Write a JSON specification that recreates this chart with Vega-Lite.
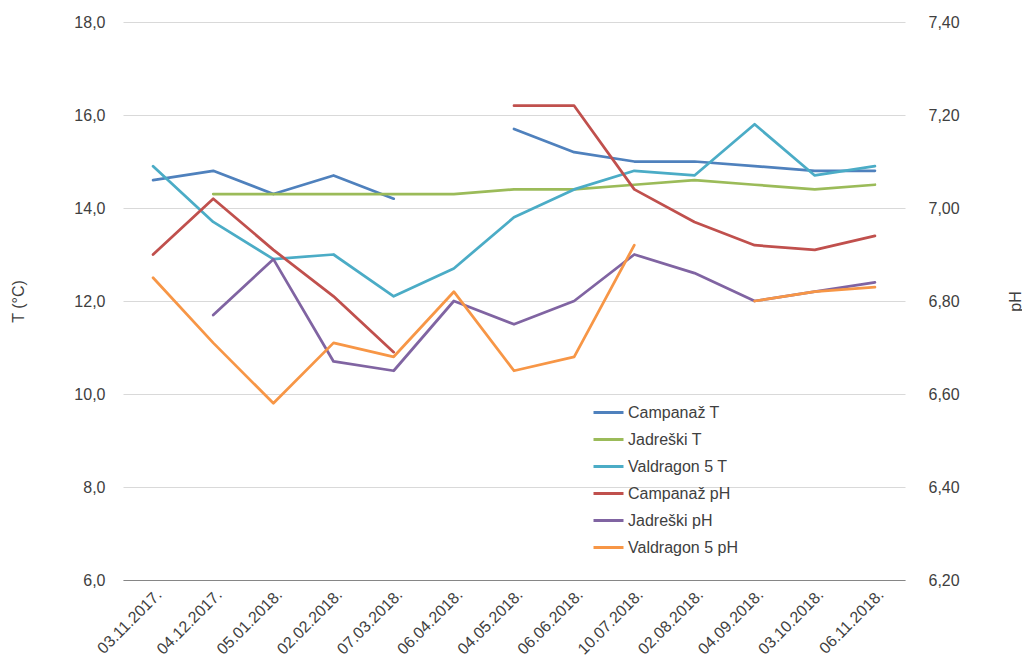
{
  "$schema": "https://vega.github.io/schema/vega-lite/v6.json",
  "width": 782,
  "height": 558,
  "autosize": {"type": "none"},
  "padding": {"left": 123, "top": 22, "right": 117, "bottom": 84},
  "background": "white",
  "config": {
    "view": {"stroke": null},
    "font": "Liberation Sans",
    "axis": {
      "labelFont": "Liberation Sans",
      "labelFontSize": 16,
      "labelColor": "#404040",
      "titleFont": "Liberation Sans",
      "titleFontSize": 16,
      "titleFontWeight": "normal",
      "titleColor": "#404040"
    },
    "legend": {
      "labelFont": "Liberation Sans",
      "labelFontSize": 16,
      "labelColor": "#404040"
    }
  },
  "datasets": {
    "temperature": [
      {"date": "03.11.2017.", "series": "Campanaž T", "value": 14.6},
      {"date": "04.12.2017.", "series": "Campanaž T", "value": 14.8},
      {"date": "05.01.2018.", "series": "Campanaž T", "value": 14.3},
      {"date": "02.02.2018.", "series": "Campanaž T", "value": 14.7},
      {"date": "07.03.2018.", "series": "Campanaž T", "value": 14.2},
      {"date": "06.04.2018.", "series": "Campanaž T", "value": null},
      {"date": "04.05.2018.", "series": "Campanaž T", "value": 15.7},
      {"date": "06.06.2018.", "series": "Campanaž T", "value": 15.2},
      {"date": "10.07.2018.", "series": "Campanaž T", "value": 15.0},
      {"date": "02.08.2018.", "series": "Campanaž T", "value": 15.0},
      {"date": "04.09.2018.", "series": "Campanaž T", "value": 14.9},
      {"date": "03.10.2018.", "series": "Campanaž T", "value": 14.8},
      {"date": "06.11.2018.", "series": "Campanaž T", "value": 14.8},
      {"date": "03.11.2017.", "series": "Jadreški T", "value": null},
      {"date": "04.12.2017.", "series": "Jadreški T", "value": 14.3},
      {"date": "05.01.2018.", "series": "Jadreški T", "value": 14.3},
      {"date": "02.02.2018.", "series": "Jadreški T", "value": 14.3},
      {"date": "07.03.2018.", "series": "Jadreški T", "value": 14.3},
      {"date": "06.04.2018.", "series": "Jadreški T", "value": 14.3},
      {"date": "04.05.2018.", "series": "Jadreški T", "value": 14.4},
      {"date": "06.06.2018.", "series": "Jadreški T", "value": 14.4},
      {"date": "10.07.2018.", "series": "Jadreški T", "value": 14.5},
      {"date": "02.08.2018.", "series": "Jadreški T", "value": 14.6},
      {"date": "04.09.2018.", "series": "Jadreški T", "value": 14.5},
      {"date": "03.10.2018.", "series": "Jadreški T", "value": 14.4},
      {"date": "06.11.2018.", "series": "Jadreški T", "value": 14.5},
      {"date": "03.11.2017.", "series": "Valdragon 5 T", "value": 14.9},
      {"date": "04.12.2017.", "series": "Valdragon 5 T", "value": 13.7},
      {"date": "05.01.2018.", "series": "Valdragon 5 T", "value": 12.9},
      {"date": "02.02.2018.", "series": "Valdragon 5 T", "value": 13.0},
      {"date": "07.03.2018.", "series": "Valdragon 5 T", "value": 12.1},
      {"date": "06.04.2018.", "series": "Valdragon 5 T", "value": 12.7},
      {"date": "04.05.2018.", "series": "Valdragon 5 T", "value": 13.8},
      {"date": "06.06.2018.", "series": "Valdragon 5 T", "value": 14.4},
      {"date": "10.07.2018.", "series": "Valdragon 5 T", "value": 14.8},
      {"date": "02.08.2018.", "series": "Valdragon 5 T", "value": 14.7},
      {"date": "04.09.2018.", "series": "Valdragon 5 T", "value": 15.8},
      {"date": "03.10.2018.", "series": "Valdragon 5 T", "value": 14.7},
      {"date": "06.11.2018.", "series": "Valdragon 5 T", "value": 14.9}
    ],
    "ph": [
      {"date": "03.11.2017.", "series": "Campanaž pH", "value": 6.90},
      {"date": "04.12.2017.", "series": "Campanaž pH", "value": 7.02},
      {"date": "05.01.2018.", "series": "Campanaž pH", "value": 6.91},
      {"date": "02.02.2018.", "series": "Campanaž pH", "value": 6.81},
      {"date": "07.03.2018.", "series": "Campanaž pH", "value": 6.69},
      {"date": "06.04.2018.", "series": "Campanaž pH", "value": null},
      {"date": "04.05.2018.", "series": "Campanaž pH", "value": 7.22},
      {"date": "06.06.2018.", "series": "Campanaž pH", "value": 7.22},
      {"date": "10.07.2018.", "series": "Campanaž pH", "value": 7.04},
      {"date": "02.08.2018.", "series": "Campanaž pH", "value": 6.97},
      {"date": "04.09.2018.", "series": "Campanaž pH", "value": 6.92},
      {"date": "03.10.2018.", "series": "Campanaž pH", "value": 6.91},
      {"date": "06.11.2018.", "series": "Campanaž pH", "value": 6.94},
      {"date": "03.11.2017.", "series": "Jadreški pH", "value": null},
      {"date": "04.12.2017.", "series": "Jadreški pH", "value": 6.77},
      {"date": "05.01.2018.", "series": "Jadreški pH", "value": 6.89},
      {"date": "02.02.2018.", "series": "Jadreški pH", "value": 6.67},
      {"date": "07.03.2018.", "series": "Jadreški pH", "value": 6.65},
      {"date": "06.04.2018.", "series": "Jadreški pH", "value": 6.80},
      {"date": "04.05.2018.", "series": "Jadreški pH", "value": 6.75},
      {"date": "06.06.2018.", "series": "Jadreški pH", "value": 6.80},
      {"date": "10.07.2018.", "series": "Jadreški pH", "value": 6.90},
      {"date": "02.08.2018.", "series": "Jadreški pH", "value": 6.86},
      {"date": "04.09.2018.", "series": "Jadreški pH", "value": 6.80},
      {"date": "03.10.2018.", "series": "Jadreški pH", "value": 6.82},
      {"date": "06.11.2018.", "series": "Jadreški pH", "value": 6.84},
      {"date": "03.11.2017.", "series": "Valdragon 5 pH", "value": 6.85},
      {"date": "04.12.2017.", "series": "Valdragon 5 pH", "value": 6.71},
      {"date": "05.01.2018.", "series": "Valdragon 5 pH", "value": 6.58},
      {"date": "02.02.2018.", "series": "Valdragon 5 pH", "value": 6.71},
      {"date": "07.03.2018.", "series": "Valdragon 5 pH", "value": 6.68},
      {"date": "06.04.2018.", "series": "Valdragon 5 pH", "value": 6.82},
      {"date": "04.05.2018.", "series": "Valdragon 5 pH", "value": 6.65},
      {"date": "06.06.2018.", "series": "Valdragon 5 pH", "value": 6.68},
      {"date": "10.07.2018.", "series": "Valdragon 5 pH", "value": 6.92},
      {"date": "02.08.2018.", "series": "Valdragon 5 pH", "value": null},
      {"date": "04.09.2018.", "series": "Valdragon 5 pH", "value": 6.80},
      {"date": "03.10.2018.", "series": "Valdragon 5 pH", "value": 6.82},
      {"date": "06.11.2018.", "series": "Valdragon 5 pH", "value": 6.83}
    ]
  },
  "layer": [
    {
      "data": {"name": "temperature"},
      "mark": {"type": "line", "strokeWidth": 2.75, "strokeJoin": "round", "strokeCap": "round", "invalid": "break-paths-show-domains"},
      "encoding": {
        "x": {
          "field": "date", "type": "ordinal",
          "scale": {"domain": ["03.11.2017.","04.12.2017.","05.01.2018.","02.02.2018.","07.03.2018.","06.04.2018.","04.05.2018.","06.06.2018.","10.07.2018.","02.08.2018.","04.09.2018.","03.10.2018.","06.11.2018."]},
          "axis": {"title": null, "labelAngle": -45, "ticks": false, "grid": false, "domainColor": "#868686", "labelPadding": 6}
        },
        "y": {
          "field": "value", "type": "quantitative",
          "scale": {"domain": [6, 18], "nice": false, "zero": false},
          "axis": {
            "title": "T (°C)", "values": [6, 8, 10, 12, 14, 16, 18],
            "labelExpr": "replace(format(datum.value, '.1f'), '.', ',')",
            "domain": false, "ticks": false, "gridColor": "#D9D9D9", "labelPadding": 18,
            "titleX": -105, "titleY": 279, "titleAngle": -90, "titleAlign": "center", "titleBaseline": "middle"
          }
        },
        "color": {
          "field": "series", "type": "nominal",
          "scale": {
            "domain": ["Campanaž T", "Jadreški T", "Valdragon 5 T", "Campanaž pH", "Jadreški pH", "Valdragon 5 pH"],
            "range": ["#4F81BD", "#9BBB59", "#4BACC6", "#C0504D", "#8064A2", "#F79646"]
          },
          "legend": {
            "title": null, "orient": "none", "legendX": 469, "legendY": 374,
            "symbolType": "stroke", "symbolSize": 900, "symbolStrokeWidth": 3,
            "labelOffset": 3, "rowPadding": 2, "padding": 0
          }
        }
      }
    },
    {
      "data": {"name": "ph"},
      "mark": {"type": "line", "strokeWidth": 2.75, "strokeJoin": "round", "strokeCap": "round", "invalid": "break-paths-show-domains"},
      "encoding": {
        "x": {
          "field": "date", "type": "ordinal",
          "scale": {"domain": ["03.11.2017.","04.12.2017.","05.01.2018.","02.02.2018.","07.03.2018.","06.04.2018.","04.05.2018.","06.06.2018.","10.07.2018.","02.08.2018.","04.09.2018.","03.10.2018.","06.11.2018."]},
          "axis": {"title": null, "labelAngle": -45, "ticks": false, "grid": false, "domainColor": "#868686", "labelPadding": 6}
        },
        "y": {
          "field": "value", "type": "quantitative",
          "scale": {"domain": [6.2, 7.4], "nice": false, "zero": false},
          "axis": {
            "orient": "right", "title": "pH", "values": [6.2, 6.4, 6.6, 6.8, 7.0, 7.2, 7.4],
            "labelExpr": "replace(format(datum.value, '.2f'), '.', ',')",
            "domain": false, "ticks": false, "grid": false, "labelPadding": 23,
            "titleX": 110, "titleY": 279, "titleAngle": -90, "titleAlign": "center", "titleBaseline": "middle"
          }
        },
        "color": {
          "field": "series", "type": "nominal",
          "scale": {
            "domain": ["Campanaž T", "Jadreški T", "Valdragon 5 T", "Campanaž pH", "Jadreški pH", "Valdragon 5 pH"],
            "range": ["#4F81BD", "#9BBB59", "#4BACC6", "#C0504D", "#8064A2", "#F79646"]
          },
          "legend": {
            "title": null, "orient": "none", "legendX": 469, "legendY": 374,
            "symbolType": "stroke", "symbolSize": 900, "symbolStrokeWidth": 3,
            "labelOffset": 3, "rowPadding": 2, "padding": 0
          }
        }
      }
    }
  ],
  "resolve": {"scale": {"y": "independent"}}
}
